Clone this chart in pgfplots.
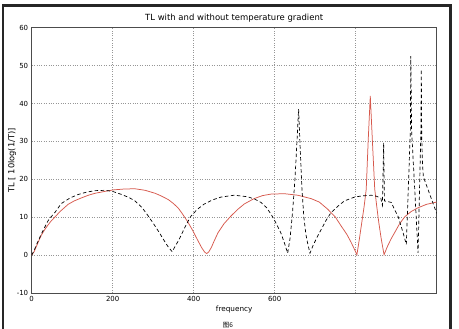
\documentclass[border=0pt]{standalone}
\usepackage{fontspec}
\setmainfont{DejaVu Sans}
\newfontfamily\cjk{Noto Sans CJK SC}
\usepackage{pgfplots}
\pgfplotsset{compat=1.18}
\definecolor{redline}{RGB}{214,88,76}
\definecolor{gridc}{RGB}{150,150,150}
\begin{document}
\begin{tikzpicture}
\useasboundingbox (0,0) rectangle (459bp,-329bp);
\begin{axis}[
  at={(31.7bp,-293bp)}, anchor=south west,
  scale only axis, width=405bp, height=265.3bp,
  xmin=0, xmax=1000, ymin=-10, ymax=60,
  xtick={0,200,400,600,800}, xticklabels={0,200,400,600,{}},
  ytick={-10,0,10,20,30,40,50,60},
  grid=major, major grid style={gridc, dash pattern=on 0.8bp off 1.6bp, line width=0.5pt},
  major tick length=0pt,
  axis line style={draw=black!70, line width=0.6pt},
  tick label style={font=\fontsize{7}{8}\selectfont},
  /pgf/number format/assume math mode=true,
  xlabel={frequency},
  xlabel style={at={(axis description cs:0.5,-0.0603)}, anchor=center, font=\fontsize{7.3}{9}\selectfont},
  ylabel={TL [ 10log(1/T)]},
  ylabel style={at={(axis description cs:-0.0486,0.5)}, anchor=center, font=\fontsize{8.3}{10}\selectfont},
]
\addplot[redline, line width=0.75pt] coordinates {
(0,0)(6,0.9)(12,2.4)(18,3.9)(24,5.3)(32,6.7)(40,7.9)(48,9.0)(57,10.0)(70,11.5)(90,13.4)(105,14.3)(123,15.1)(140,15.8)(156,16.3)(180,16.8)(201,17.2)(230,17.45)(255,17.5)(280,17.1)(305,16.3)(320,15.6)(338,14.6)(350,13.6)(362,12.4)(372,10.9)(384,9.0)(396,6.8)(409,4.1)(420,1.9)(427,0.8)(432,0.4)(437,0.8)(444,2.1)(450,3.6)(460,5.9)(475,8.3)(491,10.2)(508,12.0)(525,13.5)(549,14.9)(570,15.7)(591,16.1)(624,16.2)(657,15.8)(690,14.9)(710,14.0)(731,12.1)(750,10.0)(764,7.7)(778,5.5)(789,3.3)(797,1.5)(803,0.1)(809,4.2)(815,8.6)(821,13.0)(826,17.4)(831,30.6)(836,42)(841,30.6)(847,17.4)(852,12.8)(857,8.6)(863,4.3)(870,0.1)(878,2.2)(887,4.2)(896,5.9)(908,8.2)(921,10.1)(937,11.5)(954,12.5)(975,13.4)(1000,14.0)
};
\addplot[black, line width=0.7pt, dash pattern=on 3.5bp off 2.5bp] coordinates {
(0,0)(6,1.2)(12,2.8)(24,5.6)(40,9.0)(47,10.0)(57,11.2)(73,13.6)(95,15.1)(115,16.0)(135,16.6)(156,17.0)(181,17.1)(200,16.8)(222,16.0)(240,15.2)(255,14.3)(272,12.6)(288,10.3)(300,8.4)(313,6.3)(326,4.0)(338,2.0)(347,0.9)(355,2.5)(363,3.9)(370,5.5)(380,7.7)(392,10.1)(408,12.0)(425,13.4)(445,14.5)(467,15.3)(500,15.8)(533,15.4)(550,14.8)(566,13.9)(580,12.5)(591,10.8)(603,8.5)(615,5.9)(624,3.2)(632,0.5)(638,4.5)(644,11.2)(650,20)(655,30)(659,38.5)(663,28)(667,18)(672,10)(677,5.5)(681,3.3)(687,0.5)(695,2.6)(705,4.8)(715,6.8)(727,9.2)(739,11.2)(756,12.9)(772,14.3)(797,15.3)(814,15.6)(839,15.8)(852,15.5)(862,15.0)(866,13.2)(869,29.7)(871,14.3)(880,14.1)(888,13.9)(896,12.0)(905,10.1)(917,5.9)(925,2.8)(935,33)(936,52.5)(938,33)(954,0.6)(961,33)(962,49)(963,31)(965,24)(967,20.7)(1000,11)
};
\end{axis}
\node[font=\fontsize{8.5}{10}\selectfont, anchor=base] at (234.2bp,-20bp) {TL with and without temperature gradient};
\draw[line width=2.5bp, black!85] (3bp,-335bp) -- (3bp,-5.5bp) -- (450.5bp,-5.5bp) -- (450.5bp,-335bp);
\node[font=\cjk\fontsize{6.5}{7}\selectfont, anchor=south, inner sep=0.5bp] at (228bp,-328.5bp) {图6};
\end{tikzpicture}
\end{document}
